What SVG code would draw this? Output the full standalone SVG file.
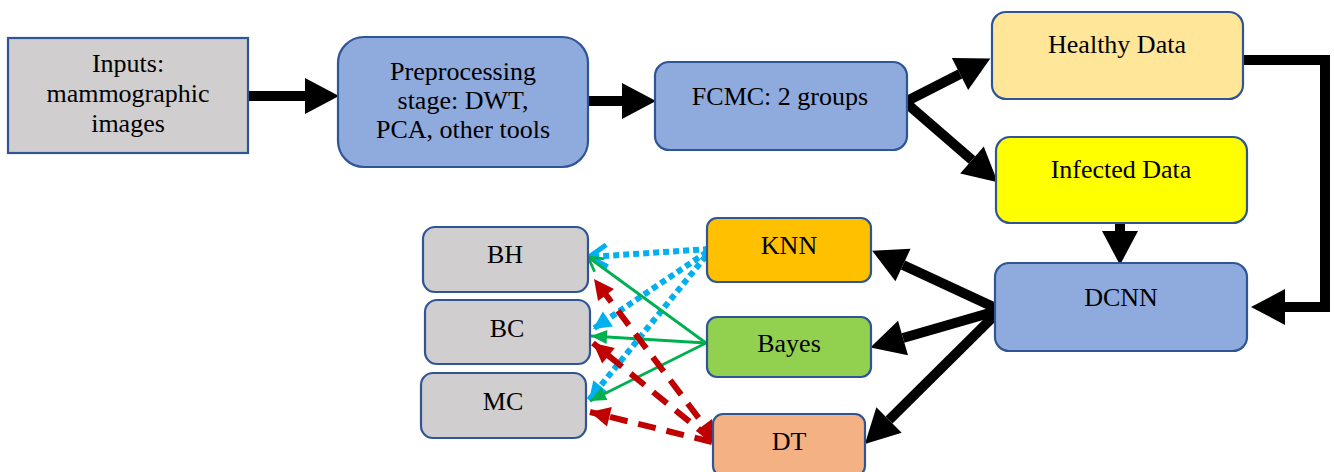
<svg xmlns="http://www.w3.org/2000/svg" width="1334" height="472" viewBox="0 0 1334 472">
<style>
.box{stroke:#2f5597;stroke-width:2.2}
.gray{fill:#d0cece}
.blue{fill:#8faadc}
text{font-size:26px;fill:#000;text-anchor:middle}
.thick{stroke:#000;stroke-width:10;fill:none}
.dot{stroke:#00b0f0;stroke-width:6;stroke-dasharray:6 4;fill:none}
.grn{stroke:#00b050;stroke-width:2.8;fill:none}
.red{stroke:#c00000;stroke-width:6;stroke-dasharray:18 11;fill:none}
</style>
<defs>
<marker id="big" markerUnits="userSpaceOnUse" markerWidth="36" markerHeight="36" refX="0" refY="18" orient="auto" overflow="visible">
<path d="M0,0 L34,18 L0,36 z" fill="#000"/>
</marker>
<marker id="bOpen" markerUnits="userSpaceOnUse" markerWidth="22" markerHeight="26" refX="20" refY="13" orient="auto" overflow="visible">
<path d="M2,2 L20,13 L2,24" fill="none" stroke="#00b0f0" stroke-width="5"/>
</marker>
<marker id="bFill" markerUnits="userSpaceOnUse" markerWidth="20" markerHeight="20" refX="18" refY="9" orient="auto" overflow="visible">
<path d="M0,0 L18,9 L0,18 z" fill="#00b0f0"/>
</marker>
<marker id="gOpen" markerUnits="userSpaceOnUse" markerWidth="18" markerHeight="20" refX="16" refY="9" orient="auto" overflow="visible">
<path d="M2,1 L16,9 L2,17" fill="none" stroke="#00b050" stroke-width="2.8"/>
</marker>
<marker id="gFill" markerUnits="userSpaceOnUse" markerWidth="18" markerHeight="16" refX="16" refY="7" orient="auto" overflow="visible">
<path d="M0,0 L16,7 L0,14 z" fill="#00b050"/>
</marker>
<marker id="rFill" markerUnits="userSpaceOnUse" markerWidth="22" markerHeight="20" refX="20" refY="10" orient="auto-start-reverse" overflow="visible">
<path d="M0,0 L20,10 L0,20 z" fill="#c00000"/>
</marker>
</defs>

<g id="connectors">
<line class="thick" x1="248" y1="96" x2="305" y2="96" marker-end="url(#big)"/>
<line class="thick" x1="588" y1="101" x2="622" y2="101" marker-end="url(#big)"/>
<line class="thick" x1="905" y1="102" x2="960" y2="74" marker-end="url(#big)"/>
<line class="thick" x1="905" y1="102" x2="972" y2="160" marker-end="url(#big)"/>
<line class="thick" x1="1120" y1="222" x2="1120" y2="231" marker-end="url(#big)"/>
<polyline class="thick" points="1243,60 1325,60 1325,307 1285,307" marker-end="url(#big)"/>
<line class="thick" x1="1000" y1="310" x2="903" y2="265" marker-end="url(#big)"/>
<line class="thick" x1="1000" y1="310" x2="903" y2="338" marker-end="url(#big)"/>
<line class="thick" x1="1000" y1="310" x2="889" y2="420" marker-end="url(#big)"/>

<line class="dot" x1="709" y1="249" x2="589" y2="257" marker-end="url(#bOpen)"/>
<line class="dot" x1="707" y1="252" x2="593" y2="329" marker-end="url(#bFill)"/>
<line class="dot" x1="706" y1="256" x2="589" y2="400" marker-end="url(#bFill)"/>

<line class="grn" x1="706" y1="343" x2="588" y2="257" marker-end="url(#gOpen)"/>
<line class="grn" x1="706" y1="343" x2="591" y2="336" marker-end="url(#gFill)"/>
<line class="grn" x1="706" y1="343" x2="590" y2="401" marker-end="url(#gFill)"/>

<line class="red" x1="716" y1="441" x2="594" y2="279" marker-start="url(#rFill)" marker-end="url(#rFill)"/>
<line class="red" x1="712" y1="440" x2="593" y2="343" marker-end="url(#rFill)"/>
<line class="red" x1="712" y1="442" x2="590" y2="412" marker-end="url(#rFill)"/>
</g>

<g font-family="Liberation Serif, Tinos, Times New Roman, DejaVu Serif, serif">
<g id="inputs">
<rect class="box gray" x="8" y="38" width="240" height="115"/>
<text x="128" y="72">Inputs:</text>
<text x="128" y="102">mammographic</text>
<text x="128" y="132">images</text>
</g>
<g id="preprocessing">
<rect class="box blue" x="338" y="37" width="250" height="130" rx="26"/>
<text x="463" y="80">Preprocessing</text>
<text x="463" y="109">stage: DWT,</text>
<text x="463" y="138">PCA, other tools</text>
</g>
<g id="fcmc">
<rect class="box blue" x="655" y="62" width="252" height="88" rx="14"/>
<text x="780" y="105">FCMC: 2 groups</text>
</g>
<g id="healthy">
<rect class="box" fill="#ffe699" x="992" y="12" width="251" height="87" rx="14"/>
<text x="1117" y="53">Healthy Data</text>
</g>
<g id="infected">
<rect class="box" fill="#ffff00" x="996" y="137" width="251" height="86" rx="14"/>
<text x="1121" y="178">Infected Data</text>
</g>
<g id="dcnn">
<rect class="box blue" x="995" y="263" width="252" height="88" rx="14"/>
<text x="1121" y="306">DCNN</text>
</g>
<g id="knn">
<rect class="box" fill="#ffc000" x="707" y="218" width="164" height="64" rx="10"/>
<text x="789" y="254">KNN</text>
</g>
<g id="bayes">
<rect class="box" fill="#92d050" x="707" y="317" width="164" height="60" rx="10"/>
<text x="789" y="352">Bayes</text>
</g>
<g id="dt">
<rect class="box" fill="#f4b183" x="713" y="414" width="152" height="62" rx="10"/>
<text x="789" y="450">DT</text>
</g>
<g id="bh">
<rect class="box gray" x="423" y="227" width="165" height="65" rx="12"/>
<text x="505" y="263">BH</text>
</g>
<g id="bc">
<rect class="box gray" x="425" y="300" width="165" height="64" rx="12"/>
<text x="507" y="337">BC</text>
</g>
<g id="mc">
<rect class="box gray" x="421" y="373" width="165" height="65" rx="12"/>
<text x="503" y="410">MC</text>
</g>
</g>
</svg>
